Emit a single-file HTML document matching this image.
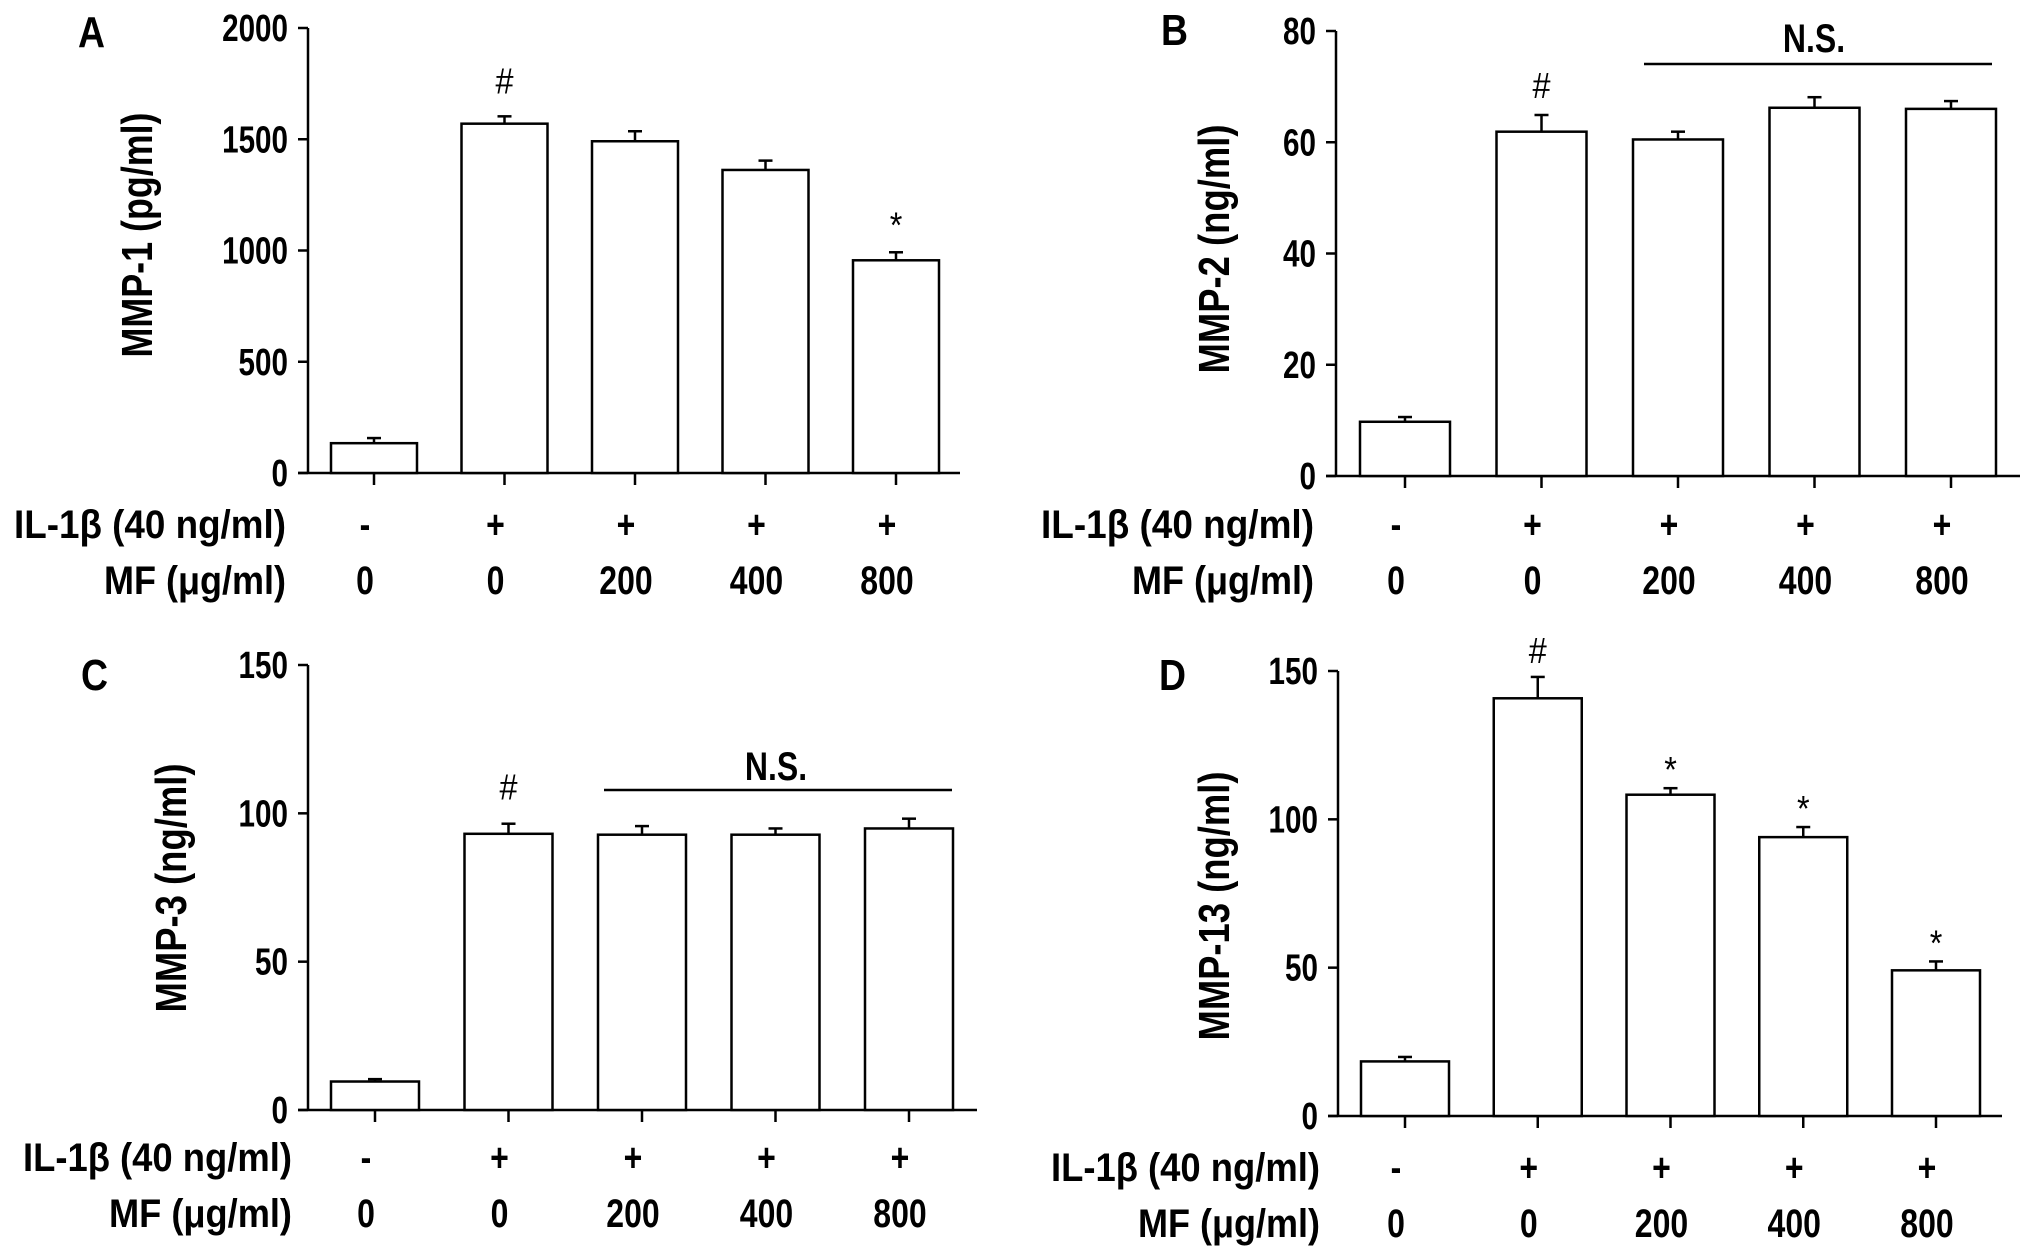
<!DOCTYPE html>
<html><head><meta charset="utf-8"><style>
html,body{margin:0;padding:0;background:#fff}
svg{display:block}
text{font-family:"Liberation Sans",Arial,sans-serif;fill:#000}
</style></head><body>
<svg id="fig" width="2031" height="1254" viewBox="0 0 2031 1254" xmlns="http://www.w3.org/2000/svg"></svg>
<script>
const groups = ["ctrl","il1b","mf200","mf400","mf800"];
const ilRow = ["-","+","+","+","+"];
const mfRow = ["0","0","200","400","800"];
const mmp1Vals = [134,1570,1491,1362,956];
const mmp1Err = [157,1603,1536,1404,992];
const mmp1Marks = ["","#","","","*"];
const mmp1Ticks = [0,500,1000,1500,2000];
const mmp2Vals = [9.75,61.9,60.5,66.2,66.0];
const mmp2Err = [10.6,64.9,61.9,68.1,67.4];
const mmp2Marks = ["","#","","",""];
const mmp2Ticks = [0,20,40,60,80];
const mmp3Vals = [9.6,93.1,92.8,92.8,94.9];
const mmp3Err = [10.4,96.5,95.7,94.9,98.2];
const mmp3Marks = ["","#","","",""];
const mmp3Ticks = [0,50,100,150];
const mmp13Vals = [18.4,140.8,108.3,94.0,49.1];
const mmp13Err = [19.9,148.0,110.5,97.4,52.1];
const mmp13Marks = ["","#","*","*","*"];
const mmp13Ticks = [0,50,100,150];

const NS="http://www.w3.org/2000/svg";
const svg=document.getElementById('fig');
function el(tag,attrs,parent){const e=document.createElementNS(NS,tag);for(const k in attrs)e.setAttribute(k,attrs[k]);(parent||svg).appendChild(e);return e;}
function ctext(parent,x,y,str,fs,anchor,sx,weight){
  const t=el('text',{transform:`translate(${x},${y}) scale(${sx},1)`,'font-size':fs,'font-weight':weight||'bold','text-anchor':anchor},parent);
  t.textContent=str;return t;
}
function panel(p){
  const g=el('g',{});
  
  
  const max=p.ticks[p.ticks.length-1];
  const y=v=>p.y0-(v/max)*(p.y0-p.yTop);
  const xc=i=>p.c0+i*p.step;
  const L=ctext(g,p.letterX,p.letterY+3,p.id,44,'start',0.85);
  
  
  const ya=el('line',{x1:p.ax,y1:p.yTop,x2:p.ax,y2:p.y0,stroke:'#000','stroke-width':2.5},g);
  
  
  p.ticks.forEach(t=>{
    el('line',{x1:p.ax-10,y1:y(t),x2:p.ax,y2:y(t),stroke:'#000','stroke-width':2.5},g);
    const tl=ctext(g,p.ax-20,y(t)+13,String(t),38,'end',0.78);
    
    
  });
  const xa=el('line',{x1:p.ax-10,y1:p.y0,x2:p.xEnd,y2:p.y0,stroke:'#000','stroke-width':2.5},g);
  
  
  const yt=el('text',{transform:`translate(${p.ytX+2},${p.ytY}) rotate(-90)`,'font-size':44,'font-weight':'bold','text-anchor':'middle',textLength:p.ytLen,lengthAdjust:'spacingAndGlyphs'},g);
  yt.textContent=p.title;
  
  
  p.vals.forEach((v,i)=>{
    const cx=xc(i);
    el('line',{x1:cx,y1:p.y0,x2:cx,y2:p.y0+12,stroke:'#000','stroke-width':2.5},g);
    const ey=y(p.err[i]);
    const eb=el('line',{x1:cx,y1:y(v),x2:cx,y2:ey,stroke:'#000','stroke-width':2.5},g);
    
    
    el('line',{x1:cx-7,y1:ey,x2:cx+7,y2:ey,stroke:'#000','stroke-width':2.5},g);
    const r=el('rect',{x:cx-p.bw/2,y:y(v),width:p.bw,height:p.y0-y(v),fill:'#fff',stroke:'#000','stroke-width':2.5},g);
    
    
    if(p.marks[i]){
      const c=ey-p.gap;
      const m=ctext(g,cx,c+(p.marks[i]==='#'?12:20),p.marks[i],36,'middle',0.9,'normal');
      
      
    }
    const a=ctext(g,cx-9,p.ilY+2,ilRow[i],40,'middle',0.8);
    
    
    const b=ctext(g,cx-9,p.mfY+2,mfRow[i],40,'middle',0.8);
    
    
  });
  const r1=el('text',{x:p.rowLabelX,y:p.ilY+2,'font-size':40,'font-weight':'bold','text-anchor':'end',textLength:p.ilLen,lengthAdjust:'spacingAndGlyphs'},g);
  r1.textContent='IL-1β (40 ng/ml)';
  
  
  const r2=el('text',{x:p.rowLabelX,y:p.mfY+2,'font-size':40,'font-weight':'bold','text-anchor':'end',textLength:p.mfLen,lengthAdjust:'spacingAndGlyphs'},g);
  r2.textContent='MF (μg/ml)';
  
  
  if(p.ns){
    const nl=el('line',{x1:p.ns.x1,y1:p.ns.y,x2:p.ns.x2,y2:p.ns.y,stroke:'#000','stroke-width':2.5},g);
    
    
    const nt=ctext(g,p.ns.tx,p.ns.ty+2,'N.S.',40,'middle',0.8);
    
    
  }
}
panel({id:'A',vals:mmp1Vals,err:mmp1Err,marks:mmp1Marks,ticks:mmp1Ticks,title:'MMP-1 (pg/ml)',
  ax:308,y0:473,yTop:28,xEnd:960,c0:374,step:130.5,bw:86,letterX:78,letterY:44,ytX:150,ytY:235,ytLen:245,
  ilY:536,mfY:592,rowLabelX:286,ilLen:272,mfLen:182,gap:35});
panel({id:'B',vals:mmp2Vals,err:mmp2Err,marks:mmp2Marks,ticks:mmp2Ticks,title:'MMP-2 (ng/ml)',
  ax:1336,y0:476,yTop:31,xEnd:2020,c0:1405,step:136.5,bw:90,letterX:1161,letterY:42,ytX:1227,ytY:249,ytLen:249,
  ilY:536,mfY:592,rowLabelX:1314,ilLen:273,mfLen:182,gap:29,ns:{x1:1644,x2:1992,y:64,tx:1814,ty:50}});
panel({id:'C',vals:mmp3Vals,err:mmp3Err,marks:mmp3Marks,ticks:mmp3Ticks,title:'MMP-3 (ng/ml)',
  ax:308,y0:1110,yTop:665,xEnd:977,c0:375,step:133.5,bw:88,letterX:81,letterY:687,ytX:184,ytY:888,ytLen:249,
  ilY:1169,mfY:1225,rowLabelX:292,ilLen:269,mfLen:183,gap:36,ns:{x1:604,x2:952,y:790,tx:776,ty:778}});
panel({id:'D',vals:mmp13Vals,err:mmp13Err,marks:mmp13Marks,ticks:mmp13Ticks,title:'MMP-13 (ng/ml)',
  ax:1338,y0:1116,yTop:671,xEnd:2002,c0:1405,step:132.75,bw:88,letterX:1159,letterY:687,ytX:1227,ytY:906,ytLen:269,
  ilY:1179,mfY:1235,rowLabelX:1320,ilLen:269,mfLen:182,gap:26});
</script>
</body></html>
